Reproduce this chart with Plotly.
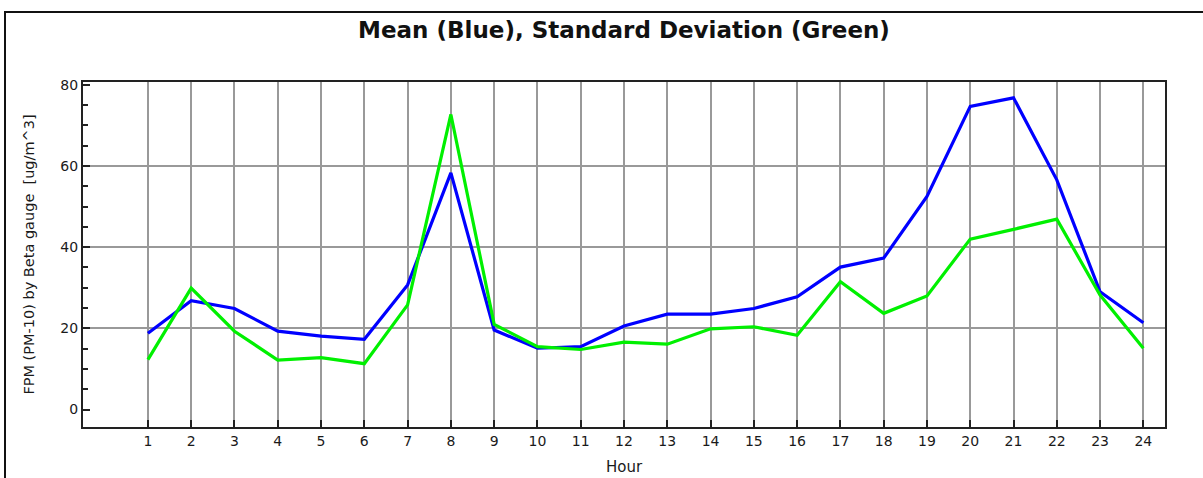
import plotly.graph_objects as go

hours = list(range(1, 25))
mean_blue = [18.8, 26.8, 24.9, 19.3, 18.1, 17.3, 30.7, 58.3, 19.6, 15.1, 15.5, 20.6,
             23.5, 23.5, 24.9, 27.8, 35.1, 37.3, 52.5, 74.7, 76.8, 56.6, 29.0, 21.4]
std_green = [12.3, 29.9, 19.3, 12.2, 12.8, 11.3, 25.8, 72.7, 21.0, 15.5, 14.8, 16.6,
             16.1, 19.9, 20.4, 18.3, 31.5, 23.7, 28.0, 42.0, 44.4, 46.9, 28.2, 15.1]
y_ticks = [0, 20, 40, 60, 80]
y_grid = [20, 40, 60]

title_text = "Mean (Blue), Standard Deviation (Green)"
y_title = "FPM (PM-10) by Beta gauge\u00a0\u00a0[ug/m^3]"
x_title = "Hour"

FONT = "DejaVu Sans, Liberation Sans, Arial, sans-serif"
W, H = 1203, 478
L, R, T, B = 83, 38, 82, 51
pw, ph = W - L - R, H - T - B

fig = go.Figure()
fig.add_trace(go.Scatter(x=hours, y=mean_blue, mode="lines",
                         line=dict(color="#0000ff", width=3.2), yaxis="y"))
fig.add_trace(go.Scatter(x=hours, y=std_green, mode="lines",
                         line=dict(color="#00f000", width=3.2), yaxis="y"))
# invisible trace to activate the grid overlay axis
fig.add_trace(go.Scatter(x=[hours[0]], y=[y_grid[0]], mode="markers",
                         marker=dict(opacity=0), yaxis="y2", hoverinfo="skip"))

yr = [-4.3, 80.7]
fig.update_layout(
    width=W, height=H,
    margin=dict(l=L, r=R, t=T, b=B, autoexpand=False),
    paper_bgcolor="white", plot_bgcolor="white",
    showlegend=False,
    font=dict(family=FONT, color="#1a1a1a", size=14),
    title=dict(text="<b>" + title_text + "</b>", x=(L + pw / 2) / W, xanchor="center",
               y=1 - 30 / H, yanchor="middle", yref="container",
               font=dict(family=FONT, size=23, color="#111111")),
    xaxis=dict(range=[-0.5, 24.5], tickvals=hours, ticktext=[str(h) for h in hours],
               showgrid=True, gridcolor="#999999", gridwidth=2,
               ticks="inside", ticklen=7, tickwidth=2, tickcolor="#222222",
               showline=True, linecolor="#222222", linewidth=2, mirror=True,
               zeroline=False, tickfont=dict(size=14), automargin=False,
               title=dict(text=x_title, font=dict(size=15), standoff=14)),
    yaxis=dict(range=yr, tickvals=y_ticks, showgrid=False,
               ticks="inside", ticklen=7, tickwidth=1.5, tickcolor="#222222",
               minor=dict(dtick=5, tick0=0, ticks="inside", ticklen=5, tickwidth=1.5,
                          tickcolor="#222222", showgrid=False),
               showline=True, linecolor="#222222", linewidth=2, mirror=True,
               zeroline=False, tickfont=dict(size=14), automargin=False,
               title=dict(text=y_title, font=dict(size=14.5), standoff=22)),
    yaxis2=dict(range=yr, overlaying="y", tickvals=y_grid, showgrid=True,
                gridcolor="#999999", gridwidth=2, showticklabels=False, ticks="",
                zeroline=False, showline=False, automargin=False),
)

# outer frame around the chart (extends beyond the visible window right and bottom)
fig.add_shape(type="rect", xref="paper", yref="paper",
              x0=(5 - L) / pw, x1=(W + 20 - L) / pw,
              y0=-(H + 20 - T - ph) / ph, y1=1 + (T - 12) / ph,
              line=dict(color="#111111", width=2), fillcolor="rgba(0,0,0,0)", layer="below")

fig.write_html("out.html")
